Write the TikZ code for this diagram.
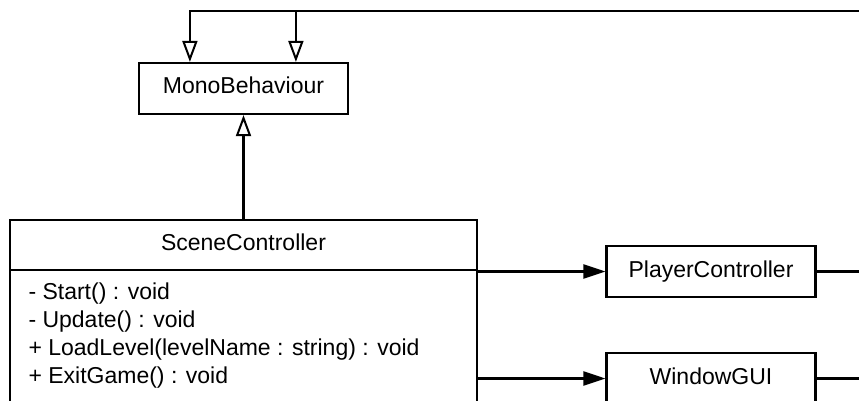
\documentclass[tikz,border=0pt]{standalone}
\usepackage{fontspec}
\setmainfont{Liberation Sans}
\usetikzlibrary{arrows.meta,positioning}

\tikzset{
    classbox/.style={draw, line width=2.2pt, inner sep=0pt, text height=16pt, text depth=5pt,
        minimum width=209pt, minimum height=51pt},
    inherit/.style={-{Triangle[open,length=21pt,width=15pt,line width=2pt]}, line width=2.2pt},
    assoc/.style={-{Triangle[length=22pt,width=14pt]}, line width=2.2pt},
}

\begin{document}
\begin{tikzpicture}[x=1pt,y=-1pt, every node/.style={font=\fontsize{23}{28}\selectfont}]
    \useasboundingbox (0,0) rectangle (859,401);
    \clip (0,0) rectangle (859,401);
    % classes
    \node[classbox] (mono) at (243.5,88.5) {MonoBehaviour};
    \node[classbox, minimum width=467pt, minimum height=50pt] (scene) at (243.5,245) {SceneController};
    \node[draw, line width=2.2pt, inner sep=0pt, minimum width=467pt, minimum height=200pt, anchor=north] (scenebody) at ([yshift=2.2pt]scene.south) {};
    \foreach \i/\y/\txt in {1/299/- Start() : void, 2/327/- Update() : void,
        3/355/+ LoadLevel(levelName : string) : void, 4/383/+ ExitGame() : void}{
        \node[anchor=base west] (m\i) at (25,\y) {\txt};
    }
    \node[classbox] (player) at (711,271.5) {PlayerController};
    \node[classbox] (win) at (711,378.5) {WindowGUI};
    % relations
    \draw[inherit] (scene.north) -- (mono.south);
    \draw[assoc] (scene.east |- player.west) -- (player.west);
    \draw[assoc] (scenebody.east |- win.west) -- (win.west);
    \draw[inherit] (player.east) -| (875,11) -| ([xshift=158pt]mono.north west);
    \draw[inherit] (win.east) -| (885,11) -| ([xshift=52pt]mono.north west);
\end{tikzpicture}
\end{document}
